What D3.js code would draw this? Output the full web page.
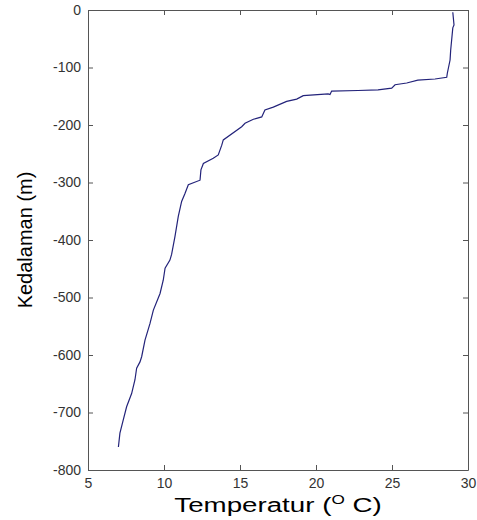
<!DOCTYPE html>
<html>
<head>
<meta charset="utf-8">
<script src="https://cdn.jsdelivr.net/npm/d3@7"></script>
<style>
  body { margin: 0; background: #fff; }
  .axis text { font-family: "Liberation Sans", Arial, sans-serif; font-size: 14px; fill: #333; }
  .axis path, .axis line { stroke: #555; }
</style>
</head>
<body>
<div id="chart"></div>
<script>
// temperature profile (deg C) vs depth (m)
const temperature = [29.0, 29.08, 29.0, 28.86, 28.82, 28.64, 28.6, 27.83, 26.7, 25.97, 25.2, 24.98,
  24.08, 22.76, 21.03, 20.92, 20.8, 19.16, 18.73, 18.07, 17.19, 16.64, 16.43, 15.88, 15.33, 15.11,
  13.9, 13.8, 13.57, 13.24, 12.59, 12.43, 12.37, 11.6, 11.38, 11.16, 10.94, 10.72, 10.5, 10.39,
  10.07, 9.95, 9.74, 9.3, 9.08, 8.75, 8.53, 8.42, 8.2, 8.09, 7.87, 7.54, 7.32, 7.1, 7.0];
const depth = [-4, -26, -31, -70, -87, -110, -117, -120, -122, -127, -130, -136,
  -139, -140, -141, -147, -146, -149, -155, -159, -169, -174, -186, -190, -197, -203,
  -226, -235, -252, -258, -267, -278, -296, -304, -319, -333, -359, -394, -425, -435,
  -449, -470, -493, -522, -545, -574, -603, -612, -623, -643, -667, -690, -713, -736, -760];
const xTicks = [5, 10, 15, 20, 25, 30];
const yTicks = [0, -100, -200, -300, -400, -500, -600, -700, -800];

const W = 477, H = 520;
const margin = {top: 10, right: 9, bottom: 50, left: 88};
const width = W - margin.left - margin.right;
const height = H - margin.top - margin.bottom;

const svg = d3.select('#chart').append('svg')
    .attr('width', W)
    .attr('height', H)
  .append('g')
    .attr('transform', `translate(${margin.left},${margin.top})`);

const x = d3.scaleLinear().domain([5, 30]).range([0, width]);
const y = d3.scaleLinear().domain([-800, 0]).range([height, 0]);

// box + inward ticks like matlab
svg.append('g')
    .attr('class', 'axis')
    .attr('transform', `translate(0,${height})`)
    .call(d3.axisBottom(x).tickValues(xTicks).tickSizeInner(-5).tickSizeOuter(0).tickPadding(8));
svg.append('g')
    .attr('class', 'axis')
    .call(d3.axisTop(x).tickValues(xTicks).tickSizeInner(-5).tickSizeOuter(0).tickFormat(''));
svg.append('g')
    .attr('class', 'axis')
    .call(d3.axisLeft(y).tickValues(yTicks).tickSizeInner(-5).tickSizeOuter(0).tickPadding(7)
      .tickFormat(d => String(d)));
svg.append('g')
    .attr('class', 'axis')
    .attr('transform', `translate(${width},0)`)
    .call(d3.axisRight(y).tickValues(yTicks).tickSizeInner(-5).tickSizeOuter(0).tickFormat(''));

const line = d3.line()
    .x((d, i) => x(temperature[i]))
    .y(d => y(d));

svg.append('path')
    .datum(depth)
    .attr('fill', 'none')
    .attr('stroke', '#23237a')
    .attr('stroke-width', 1.2)
    .attr('d', line);

// axis titles
const xl = svg.append('text')
    .attr('transform', `translate(${width / 2},${height + 42}) scale(1.32,1)`)
    .attr('text-anchor', 'middle')
    .style('font-family', '"Liberation Sans", Arial, sans-serif')
    .style('font-size', '21px')
    .attr('fill', '#000');
xl.append('tspan').text('Temperatur (');
xl.append('tspan').attr('dy', -8).style('font-size', '13px').text('O');
xl.append('tspan').attr('dy', 8).text(' C)');

svg.append('text')
    .attr('transform', `translate(${-margin.left + 32},${height / 2}) rotate(-90)`)
    .attr('text-anchor', 'middle')
    .style('font-family', '"Liberation Sans", Arial, sans-serif')
    .style('font-size', '20px')
    .attr('fill', '#000')
    .text('Kedalaman (m)');
</script>
</body>
</html>
